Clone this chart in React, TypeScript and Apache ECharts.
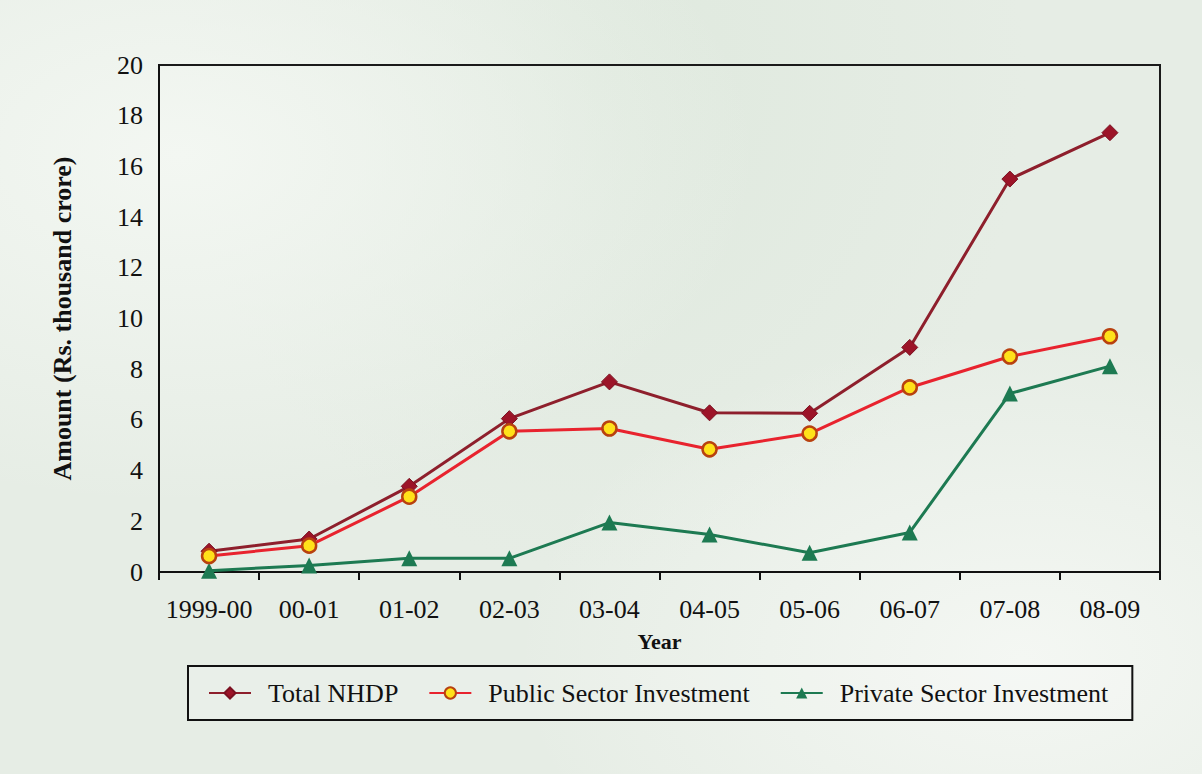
import React, { useEffect, useRef } from "react";
import * as echarts from "echarts";

const years = ["1999-00", "00-01", "01-02", "02-03", "03-04", "04-05", "05-06", "06-07", "07-08", "08-09"];
const totalNHDP = [0.82, 1.3, 3.38, 6.05, 7.5, 6.28, 6.26, 8.86, 15.5, 17.33];
const publicSector = [0.63, 1.04, 2.97, 5.55, 5.66, 4.84, 5.46, 7.28, 8.5, 9.3];
const privateSector = [0.05, 0.26, 0.54, 0.54, 1.95, 1.48, 0.76, 1.56, 7.04, 8.12];
const yTicks = { min: 0, max: 20, interval: 2 };

const FONT = "'Liberation Serif', 'Times New Roman', serif";

export default function App() {
  const ref = useRef<HTMLDivElement>(null);
  useEffect(() => {
    if (!ref.current) return;
    const chart = echarts.init(ref.current, null, { renderer: "svg" });
    chart.setOption({
      animation: false,
      backgroundColor: "transparent",
      textStyle: { fontFamily: FONT, color: "#111" },
      grid: { left: 159, top: 65, right: 42, bottom: 202, show: true, borderColor: "#1a1a1a", borderWidth: 2, backgroundColor: "transparent" },
      legend: {
        left: 188,
        top: 666,
        orient: "horizontal",
        padding: [14, 24, 14, 20],
        itemGap: 30,
        itemWidth: 42,
        itemHeight: 14,
        borderColor: "#111",
        borderWidth: 2,
        backgroundColor: "rgba(255,255,255,0.15)",
        textStyle: { fontFamily: FONT, fontSize: 26, color: "#111", padding: [0, 0, 0, 12] },
        data: ["Total NHDP", "Public Sector Investment", "Private Sector Investment"],
      },
      xAxis: {
        type: "category",
        data: years,
        boundaryGap: true,
        name: "Year",
        nameLocation: "middle",
        nameGap: 58,
        nameTextStyle: { fontFamily: FONT, fontSize: 22, fontWeight: "bold", color: "#111" },
        axisLine: { lineStyle: { color: "#111", width: 2 } },
        axisTick: { show: true, inside: false, length: 8, interval: 0, lineStyle: { color: "#111", width: 2 } },
        axisLabel: { fontFamily: FONT, fontSize: 26, color: "#111", margin: 24, interval: 0 },
        splitLine: { show: false },
      },
      yAxis: {
        type: "value",
        min: yTicks.min,
        max: yTicks.max,
        interval: yTicks.interval,
        name: "Amount (Rs. thousand crore)",
        nameLocation: "middle",
        nameGap: 84,
        nameRotate: 90,
        nameTextStyle: { fontFamily: FONT, fontSize: 26, fontWeight: "bold", color: "#111" },
        axisLine: { show: true, lineStyle: { color: "#111", width: 2 } },
        axisTick: { show: false },
        axisLabel: { fontFamily: FONT, fontSize: 26, color: "#111", margin: 16 },
        splitLine: { show: false },
      },
      series: [
        {
          name: "Total NHDP",
          type: "line",
          data: totalNHDP,
          symbol: "diamond",
          symbolSize: 16,
          lineStyle: { color: "#8e1f2c", width: 3 },
          itemStyle: { color: "#9c1428", borderColor: "#7a1020", borderWidth: 1 },
          z: 3,
        },
        {
          name: "Public Sector Investment",
          type: "line",
          data: publicSector,
          symbol: "circle",
          symbolSize: 14,
          lineStyle: { color: "#e8232e", width: 3 },
          itemStyle: { color: "#ffe11a", borderColor: "#b8410f", borderWidth: 2.5 },
          z: 4,
        },
        {
          name: "Private Sector Investment",
          type: "line",
          data: privateSector,
          symbol: "triangle",
          symbolSize: 16,
          lineStyle: { color: "#1d7a52", width: 3 },
          itemStyle: { color: "#1d7a52" },
          z: 2,
        },
      ],
    });
    return () => chart.dispose();
  }, []);
  return (
    <div
      style={{
        position: "fixed",
        left: 0,
        top: 0,
        width: 1202,
        height: 774,
        background:
          "radial-gradient(ellipse at 15% 20%, #f3f7f2 0%, rgba(243,247,242,0) 40%), radial-gradient(ellipse at 85% 85%, #f4f7f3 0%, rgba(244,247,243,0) 35%), radial-gradient(ellipse at 50% 10%, #dfe9de 0%, rgba(223,233,222,0) 50%), #e6ede5",
      }}
    >
      <div ref={ref} style={{ width: 1202, height: 774 }} />
    </div>
  );
}
